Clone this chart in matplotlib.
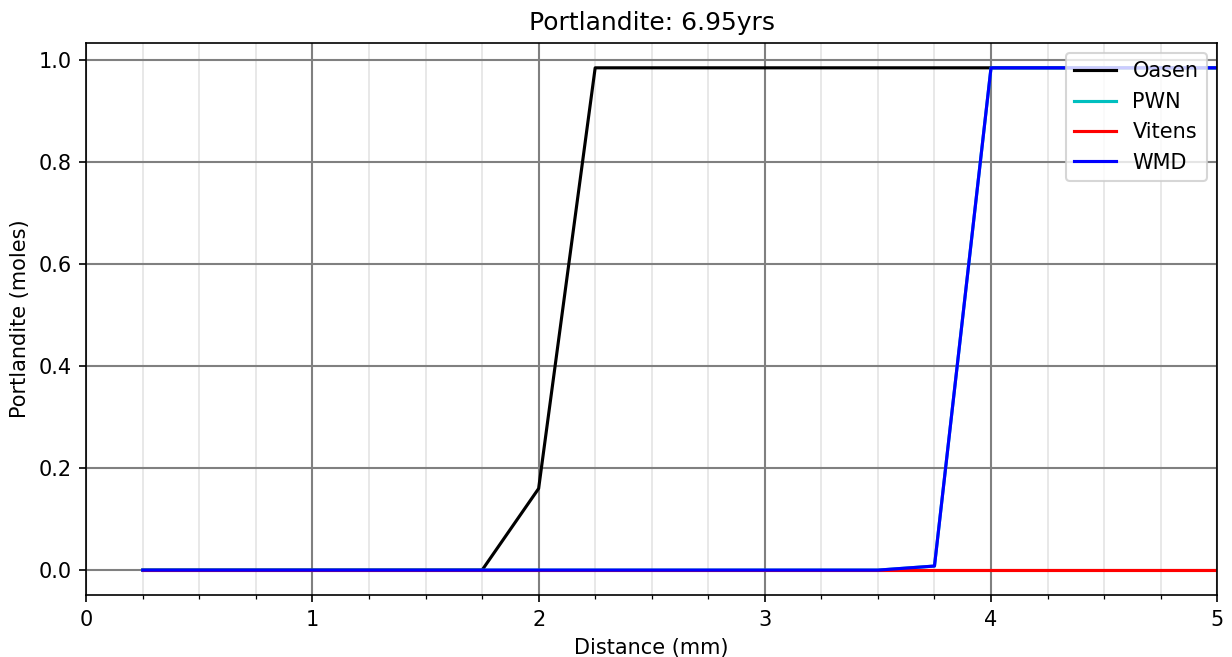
import numpy as np
import matplotlib.pyplot as plt
from matplotlib.ticker import MultipleLocator

# distancia (mm) y portlandita (moles) a 6.95 años
distancia = [0.25, 0.5, 0.75, 1.0, 1.25, 1.5, 1.75, 2.0, 2.25, 2.5,
             2.75, 3.0, 3.25, 3.5, 3.75, 4.0, 4.25, 4.5, 4.75, 5.0]
oasen = [0, 0, 0, 0, 0, 0, 0, 0.16, 0.985, 0.985,
         0.985, 0.985, 0.985, 0.985, 0.985, 0.985, 0.985, 0.985, 0.985, 0.985]
pwn = [0, 0, 0, 0, 0, 0, 0, 0, 0, 0,
       0, 0, 0, 0, 0.008, 0.985, 0.985, 0.985, 0.985, 0.985]
vitens = [0, 0, 0, 0, 0, 0, 0, 0, 0, 0,
          0, 0, 0, 0, 0, 0, 0, 0, 0, 0]
wmd = [0, 0, 0, 0, 0, 0, 0, 0, 0, 0,
       0, 0, 0, 0, 0.008, 0.985, 0.985, 0.985, 0.985, 0.985]

fig, ax = plt.subplots(figsize=(1232/150, 657/150), dpi=150)
fig.subplots_adjust(left=0.070, right=0.988, top=0.935, bottom=0.094)

ax.plot(distancia, oasen, color='k', label='Oasen')
ax.plot(distancia, pwn, color='c', label='PWN')
ax.plot(distancia, vitens, color='r', label='Vitens')
ax.plot(distancia, wmd, color='b', label='WMD')

ax.set_xlim(0, 5)
ax.xaxis.set_minor_locator(MultipleLocator(0.25))
ax.grid(which='major', color='gray', linewidth=1)
ax.grid(which='minor', axis='x', color='lightgray', alpha=0.6, linewidth=0.8)
ax.set_axisbelow(True)

ax.legend(loc='upper right')
ax.set_title('Portlandite: 6.95yrs')
ax.set_xlabel('Distance (mm)')
ax.set_ylabel('Portlandite (moles)')
fig.savefig('out.png', dpi=150)
